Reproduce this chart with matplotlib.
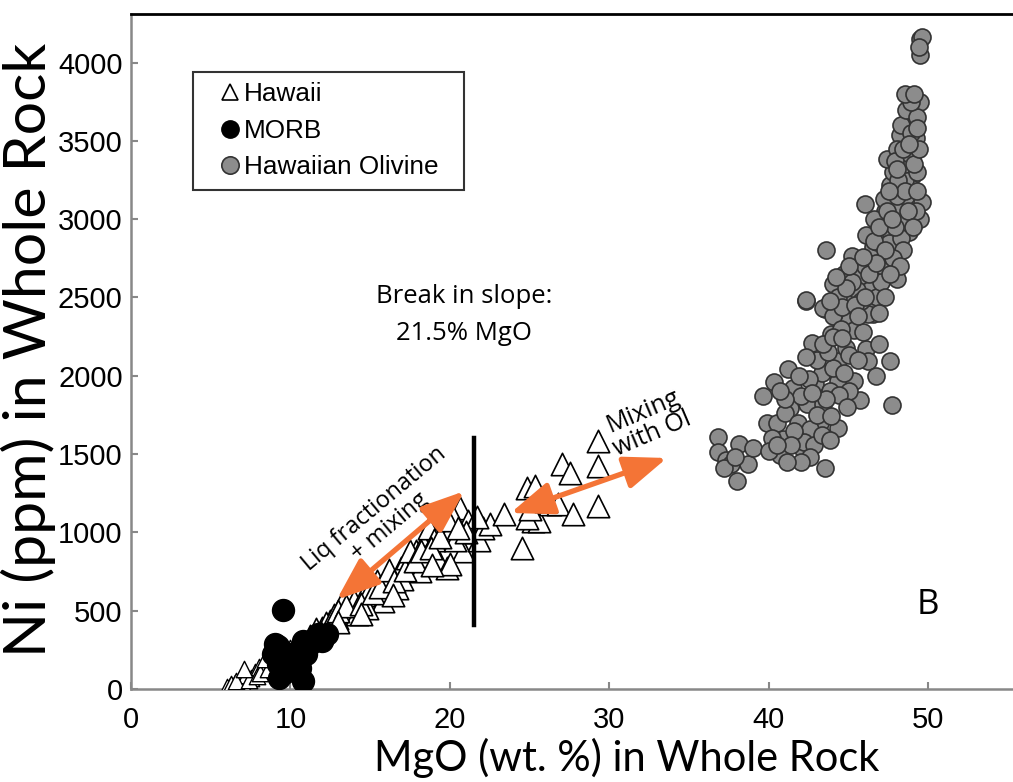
import matplotlib.pyplot as plt
from matplotlib.lines import Line2D

# --- data (MgO wt.%, Ni ppm) ---
hawaii_small_mgo = [6.2, 6.5, 6.8, 7.0, 7.2, 7.5, 7.8, 8.0, 8.3, 8.5, 8.8, 9.0, 9.5, 10.0, 10.4,
                    6.0, 6.3, 6.6, 7.4, 7.9, 8.1, 8.6, 9.2, 9.7, 7.1, 8.4]
hawaii_small_ni = [20, 40, 60, 30, 90, 70, 110, 140, 120, 170, 200, 150, 230, 262, 306,
                   10, 30, 50, 60, 80, 100, 130, 180, 210, 130, 190]

hawaii_mgo = [10.8, 11.2, 11.6, 12.0, 12.5, 12.9, 13.3, 13.7, 14.2, 14.0, 14.6, 15.4, 15.8,
              16.0, 16.3, 16.7, 16.9, 17.3, 17.6, 17.9, 18.1, 18.3, 18.7, 19.2, 19.6, 19.8,
              20.0, 20.6, 20.8, 21.1, 19.0, 17.0, 15.0, 14.8, 18.5, 20.3, 21.5, 21.8, 22.1,
              22.5, 21.7, 20.0, 23.4, 24.5, 24.8, 25.3, 25.2, 25.6, 26.3, 26.8, 27.7, 24.8,
              27.0, 27.5, 29.3, 29.3, 29.3, 25.0, 26.0,
              12.2, 12.7, 13.0, 13.5, 14.4, 15.2, 15.6, 16.2, 16.5, 17.2, 17.5, 17.8, 18.2,
              18.8, 19.4, 20.2, 19.9, 21.0, 20.5, 18.9, 16.4, 14.4, 13.0, 11.9]
hawaii_ni = [290, 340, 380, 389, 434, 453, 561, 497, 478, 560, 600, 689, 561,
             689, 720, 644, 772, 835, 780, 880, 753, 925, 1027, 835, 1052, 772,
             1008, 1154, 880, 1071, 950, 700, 640, 520, 850, 950, 1000, 950, 1027,
             1052, 1100, 800, 1116, 899, 1282, 1295, 1071, 1071, 1180, 1180, 1116, 1090,
             1435, 1378, 1582, 1422, 1167, 1150, 1200,
             420, 470, 500, 530, 540, 610, 650, 760, 690, 760, 880, 820, 880,
             900, 970, 1100, 1080, 1000, 1030, 790, 600, 480, 430, 360]

morb_mgo = [9.5, 9.2, 9.2, 9.3, 10.8, 10.0, 10.4, 11.0, 11.7, 12.3, 12.0, 11.2, 8.9, 9.8,
            10.6, 10.8, 9.0, 9.6, 11.5]
morb_ni = [504, 274, 159, 70, 51, 223, 159, 223, 351, 351, 306, 287, 223, 134,
           134, 306, 290, 100, 320]

olivine_mgo = [36.8, 36.8, 37.3, 37.6, 38.1, 38.7, 38.0, 39.0, 37.2, 37.9,
               39.6, 40.3, 41.2, 39.9, 40.7, 41.3, 40.9, 41.5, 42.4, 41.9, 42.1, 43.2, 43.5,
               43.4, 42.9, 43.3, 44.3, 44.3, 45.3, 45.7, 47.6, 47.7, 42.7, 44.3, 44.8, 46.1,
               46.2, 43.9, 44.5, 46.5, 45.5, 43.5, 42.3,
               40.5, 41.0, 41.8, 42.0, 42.6, 42.2, 43.0, 43.8, 42.5, 43.0, 44.0, 44.7, 45.0,
               43.7, 41.6, 40.2, 42.8, 43.9,
               44.0, 42.3, 45.2, 43.6, 46.3, 45.7, 47.1, 48.0, 43.4, 44.9, 46.5, 46.2, 44.3,
               45.0, 45.5, 46.0, 44.7, 45.8, 44.0, 45.3, 46.8, 47.0, 46.5, 47.5, 44.6, 45.9,
               45.2,
               46.0, 47.0, 46.1, 47.6, 46.8, 48.8, 48.2, 49.5, 47.3, 47.7, 48.4, 49.6, 47.6,
               49.0, 46.6, 47.5, 48.3, 48.0, 48.9, 47.2, 48.5, 46.6, 47.9, 49.2,
               47.8, 48.5, 49.0, 47.4, 48.5, 49.0, 48.2, 48.7, 49.0, 49.5, 48.8, 48.0, 48.7,
               49.2, 47.9, 48.3, 49.3, 48.6, 49.3, 48.1,
               49.5, 49.5, 49.6, 49.4,
               48.6, 49.1, 48.4, 49.4, 48.9, 48.0, 47.4, 48.7, 49.0, 48.4, 47.8, 48.2, 47.3,
               46.9, 47.7, 48.9, 48.5, 49.1, 49.3, 48.8, 48.0, 48.5, 49.3, 47.5,
               44.8, 45.4, 45.0, 46.3, 46.7, 47.3, 44.5, 45.6, 46.0, 44.2, 43.8, 45.9, 47.6,
               46.9,
               43.4, 44.0, 44.6, 45.0, 45.6, 44.4, 43.6, 42.7, 41.9, 42.3, 41.0, 40.7, 44.9,
               46.7, 46.9,
               41.4, 42.6, 43.3, 40.0, 42.0, 41.1, 40.5, 43.8]
olivine_ni = [1607, 1512, 1460, 1435, 1563, 1435, 1327, 1537, 1410, 1480,
              1869, 1958, 2041, 1697, 1492, 1792, 1594, 1920, 1818, 1633, 1537, 1697, 1410,
              1818, 1945, 2015, 1964, 1665, 1964, 1843, 2092, 1811, 2207, 2092, 2175, 2169,
              2092, 2264, 2341, 2392, 2411, 2424, 2475,
              1700, 1760, 1700, 1870, 1660, 1580, 1750, 1900, 1980, 2100, 2050, 2020, 1900,
              2150, 1650, 1600, 1560, 1740,
              2583, 2487, 2762, 2800, 2557, 2634, 2698, 2615, 2430, 2475, 2411, 2392, 2500,
              2350, 2550, 2700, 2650, 2480, 2380, 2290, 2500, 2600, 2820, 2770, 2440, 2280,
              2600,
              3100, 2972, 2902, 2902, 2857, 2921, 3004, 3004, 3049, 3144, 3131, 3112, 3221,
              3285, 3000, 2850, 2880, 3080, 3200, 3130, 3250, 2860, 2950, 3050,
              3304, 3350, 3413, 3387, 3495, 3604, 3540, 3623, 3686, 3750, 3782, 3450, 3420,
              3520, 3370, 3600, 3300, 3700, 3650, 3250,
              4152, 4050, 4165, 4100,
              3150, 3350, 3450, 3450, 3550, 3150, 3050, 3050, 2950, 2800, 2750, 2700, 2800,
              2950, 3000, 3750, 3800, 3800, 3580, 3480, 3320, 3180, 3180, 3180,
              2560, 2450, 2700, 2650, 2720, 2500, 2300, 2380, 2500, 2630, 2480, 2760, 2650,
              2400,
              2200, 2250, 2240, 2130, 2100, 1880, 1850, 1890, 2000, 2120, 1850, 1900, 1800,
              2000, 2200,
              1560, 1480, 1620, 1520, 1450, 1450, 1560, 1590]

break_mgo = 21.5
break_ni = [409, 1603]
liq_arrow = [(12.9, 570), (20.9, 1263)]
ol_arrow = [(23.8, 1124), (33.6, 1475)]

ORANGE = "#F47436"
GREY = "#8c8c8c"

plt.rcParams["font.family"] = ["Liberation Sans", "DejaVu Sans"]

fig = plt.figure(figsize=(10.13, 7.82), dpi=100)
ax = fig.add_axes([131 / 1013, 1 - 689 / 782, 882 / 1013, 675 / 782])

ax.scatter(hawaii_small_mgo, hawaii_small_ni, marker="^", s=140, facecolor="white",
           edgecolor="black", linewidth=1.0, zorder=3)
ax.scatter(hawaii_mgo, hawaii_ni, marker="^", s=260, facecolor="white",
           edgecolor="black", linewidth=1.2, zorder=3)
ax.scatter(morb_mgo, morb_ni, marker="o", s=250, facecolor="black",
           edgecolor="black", linewidth=1, zorder=4)
ax.scatter(olivine_mgo, olivine_ni, marker="o", s=150, facecolor=GREY,
           edgecolor="#333333", linewidth=1.2, zorder=3)

ax.plot([break_mgo, break_mgo], break_ni, color="black", linewidth=3.2, zorder=5)

arrow_kw = dict(arrowstyle="<|-|>,head_length=1.3,head_width=0.5", color=ORANGE,
                lw=3.8, shrinkA=0, shrinkB=0, mutation_scale=20)
ax.annotate("", xy=liq_arrow[0], xytext=liq_arrow[1], arrowprops=arrow_kw, zorder=6)
ax.annotate("", xy=ol_arrow[0], xytext=ol_arrow[1], arrowprops=arrow_kw, zorder=6)

txt_font = ["Open Sans", "DejaVu Sans"]
ax.text(20.9, 2388, "Break in slope:\n21.5% MgO", ha="center", va="center",
        fontsize=18.5, family=txt_font, linespacing=1.6)
ax.text(15.75, 1092, "Liq fractionation\n+ mixing", ha="center", va="center",
        fontsize=17, family=txt_font, rotation=40, rotation_mode="anchor", linespacing=1.0)
ax.text(32.4, 1700, "Mixing\nwith Ol", ha="center", va="center",
        fontsize=18, family=txt_font, rotation=23, rotation_mode="anchor", linespacing=0.95)
ax.text(49.97, 536, "B", ha="center", va="center", fontsize=25, family=txt_font)

ax.set_xlim(0, 55.3)
ax.set_ylim(0, 4310)
ax.set_xticks([0, 10, 20, 30, 40, 50])
ax.set_yticks(range(0, 4001, 500))
ax.tick_params(direction="in", length=5, width=1.5, color="#888888", labelsize=21)
ax.tick_params(axis="y", pad=6)
ax.tick_params(axis="x", pad=12)

for side in ["left", "bottom"]:
    ax.spines[side].set_color("#888888")
    ax.spines[side].set_linewidth(1.8)
ax.spines["top"].set_color("black")
ax.spines["top"].set_linewidth(2)
ax.spines["right"].set_visible(False)

label_font = ["Lato", "DejaVu Sans"]
ax.set_xlabel("MgO (wt. %) in Whole Rock", fontsize=30, family=label_font)
ax.xaxis.set_label_coords(0.562, -0.072)
ax.set_ylabel("Ni (ppm) in Whole Rock", fontsize=42.5, family=label_font)
ax.yaxis.set_label_coords(-0.085, 0.503)

handles = [
    Line2D([], [], marker="^", ls="none", ms=11.5, mfc="white", mec="black", mew=1.2),
    Line2D([], [], marker="o", ls="none", ms=12.5, mfc="black", mec="black"),
    Line2D([], [], marker="o", ls="none", ms=12.5, mfc=GREY, mec="#333333", mew=1.2),
]
leg = ax.legend(handles, ["Hawaii", "MORB", "Hawaiian Olivine"],
                loc="upper left", bbox_to_anchor=(0.0703, 0.7363, 0.3073, 0.1778),
                mode="expand", borderaxespad=0, fontsize=18.8, frameon=True, fancybox=False,
                edgecolor="black", handlelength=2.0, handletextpad=-0.45,
                labelspacing=0.48, borderpad=0.4)
leg.get_frame().set_linewidth(1.5)

fig.savefig("out.png", dpi=100)
